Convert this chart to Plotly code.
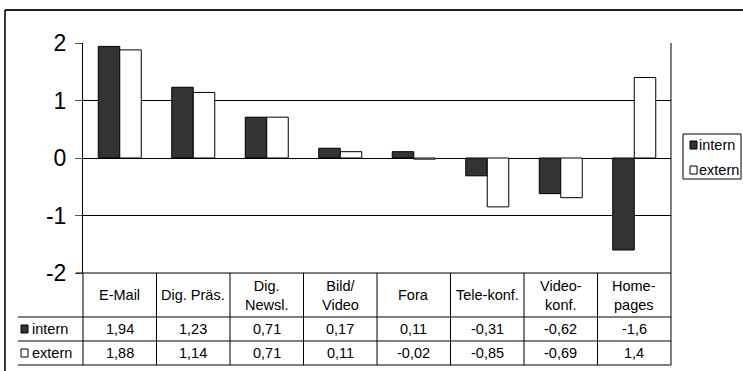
import plotly.graph_objects as go

# Communication channels and mean ratings per audience
categories = ["E-Mail", "Dig. Präs.", "Dig.<br>Newsl.", "Bild/<br>Video", "Fora",
              "Tele-konf.", "Video-<br>konf.", "Home-<br>pages"]
series_names = ["intern", "extern"]
intern = [1.94, 1.23, 0.71, 0.17, 0.11, -0.31, -0.62, -1.6]
extern = [1.88, 1.14, 0.71, 0.11, -0.02, -0.85, -0.69, 1.4]
y_ticks = [-2, -1, 0, 1, 2]

FONT = "Liberation Sans, Arial, sans-serif"
TXT = 14.5
DARK = "#333333"
W, H = 743, 371
L, R, T, B = 83, 72, 43, 98
PW, PH = W - L - R, H - T - B


def px(x):
    return (x - L) / PW


def py(y):
    return (H - B - y) / PH


def fmt(v):
    return f"{v:g}".replace(".", ",")


fig = go.Figure()
fills = [DARK, "white"]
for name, vals, fill in zip(series_names, [intern, extern], fills):
    fig.add_trace(go.Bar(
        x=categories, y=vals, name=name,
        marker=dict(color=fill, line=dict(color="black", width=1)),
        showlegend=False,
    ))

shapes = []
annotations = []
line = dict(color="black", width=1)

# outer frame (top and left edges)
shapes.append(dict(type="line", xref="paper", yref="paper", x0=px(5), x1=px(743),
                   y0=py(10), y1=py(10), line=dict(color="#222222", width=1.8)))
shapes.append(dict(type="line", xref="paper", yref="paper", x0=px(5), x1=px(5),
                   y0=py(10), y1=py(371), line=dict(color="#222222", width=1.8)))

# right border of plot area down through the table
shapes.append(dict(type="line", xref="paper", yref="paper", x0=1, x1=1,
                   y0=1, y1=py(365), line=line))
# left axis continues through the table
shapes.append(dict(type="line", xref="paper", yref="paper", x0=0, x1=0,
                   y0=0, y1=py(365), line=line))

# data table grid
row_lines = [273, 317, 341, 365]
shapes.append(dict(type="line", xref="paper", yref="paper", x0=px(76), x1=1,
                   y0=py(273), y1=py(273), line=line))
for yl in row_lines[1:]:
    shapes.append(dict(type="line", xref="paper", yref="paper", x0=px(18), x1=1,
                       y0=py(yl), y1=py(yl), line=line))
n = len(categories)
for i in range(1, n):
    shapes.append(dict(type="line", xref="paper", yref="paper", x0=i / n, x1=i / n,
                       y0=py(273), y1=py(365), line=line))

# table header and values
for cat in categories:
    annotations.append(dict(x=cat, xref="x", y=py(295), yref="paper", text=cat,
                            showarrow=False, font=dict(family=FONT, size=TXT, color="black"),
                            xanchor="center", yanchor="middle"))
row_y = [329, 353]
for vals, yc in zip([intern, extern], row_y):
    for cat, v in zip(categories, vals):
        annotations.append(dict(x=cat, xref="x", y=py(yc), yref="paper", text=fmt(v),
                                showarrow=False, font=dict(family=FONT, size=TXT, color="black"),
                                xanchor="center", yanchor="middle"))


def key(x0, yc, fill):
    shapes.append(dict(type="rect", xref="paper", yref="paper",
                       x0=px(x0), x1=px(x0 + 7), y0=py(yc - 4), y1=py(yc + 4),
                       fillcolor=fill, line=dict(color="black", width=1)))


# legend keys inside the table
for name, fill, yc in zip(series_names, fills, row_y):
    key(21, yc, fill)
    annotations.append(dict(x=px(30), xref="paper", y=py(yc), yref="paper", text=name,
                            showarrow=False, font=dict(family=FONT, size=TXT, color="black"),
                            xanchor="left", yanchor="middle"))

# legend box
shapes.append(dict(type="rect", xref="paper", yref="paper", x0=px(683), x1=px(741),
                   y0=py(134), y1=py(179), line=line, fillcolor="white"))
for name, fill, yc in zip(series_names, fills, [145, 170]):
    key(690, yc, fill)
    annotations.append(dict(x=px(697), xref="paper", y=py(yc), yref="paper", text=name,
                            showarrow=False, font=dict(family=FONT, size=TXT, color="black"),
                            xanchor="left", yanchor="middle"))

fig.update_layout(
    width=W, height=H,
    margin=dict(l=L, r=R, t=T, b=B, pad=0),
    paper_bgcolor="white", plot_bgcolor="white",
    barmode="group", bargap=0.415, bargroupgap=0,
    font=dict(family=FONT, color="black"),
    shapes=shapes, annotations=annotations,
    xaxis=dict(showticklabels=False, showgrid=False, zeroline=False, showline=False,
               ticks="", fixedrange=True),
    yaxis=dict(range=[-2, 2], tickvals=y_ticks, ticktext=[str(v) for v in y_ticks],
               showgrid=True, gridcolor="black", gridwidth=1,
               zeroline=True, zerolinecolor="black", zerolinewidth=1,
               showline=True, linecolor="black", linewidth=1,
               ticks="outside", ticklen=7, tickcolor="#555555",
               ticklabelstandoff=4,
               tickfont=dict(family=FONT, size=23, color="black")),
)

fig.write_html("out.html")
